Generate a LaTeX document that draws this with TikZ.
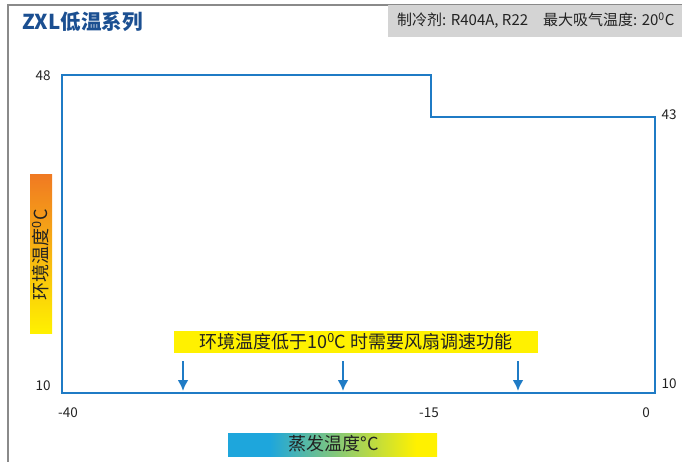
\documentclass[tikz,border=0pt]{standalone}
\usepackage{fontspec}
\setmainfont{Noto Sans CJK SC}
\usetikzlibrary{arrows.meta}

\definecolor{curveblue}{HTML}{1F7BC5}
\definecolor{titleblue}{HTML}{1B4F91}
\definecolor{framegray}{HTML}{8A8A8A}
\definecolor{hdrgray}{HTML}{D4D4D4}
\definecolor{notetext}{HTML}{222222}
\definecolor{evblue}{HTML}{1EA6DC}
\definecolor{evyellow}{HTML}{FFF100}
\definecolor{ambor}{HTML}{F07A22}

\pgfdeclarehorizontalshading{evapshade}{100bp}{color(0bp)=(evblue); color(35bp)=(evblue); color(70bp)=(evyellow); color(100bp)=(evyellow)}

\begin{document}
\begin{tikzpicture}[x=1pt, y=-1pt, every node/.style={inner sep=0pt, text=notetext}]
\useasboundingbox (0,0) rectangle (682,462);

% frame and header
\draw[framegray, line width=1.5pt] (8,462) -- (8,5) -- (682,5);
\fill[hdrgray] (388,5) rectangle (682,37);
\node[anchor=west, text=titleblue, font=\fontsize{20.5}{22}\selectfont\bfseries] (ttl) at (22,22) {ZXL低温系列};
\node[anchor=west, font=\fontsize{15}{17}\selectfont] (hdr) at (397,21) {制冷剂: R404A, R22\quad 最大吸气温度: 20\textsuperscript{0}C};

% operating envelope
\draw[curveblue, line width=2pt] (62,75) -- (431,75) -- (431,117) -- (655,117) -- (655,393) -- (62,393) -- cycle;

\node[font=\fontsize{13.5}{15}\selectfont] (t48) at (43,76) {48};
\node[font=\fontsize{13.5}{15}\selectfont] (t43) at (669,115) {43};
\node[font=\fontsize{13.5}{15}\selectfont] (t10l) at (43,386) {10};
\node[font=\fontsize{13.5}{15}\selectfont] (t10r) at (669,384) {10};
\node[font=\fontsize{13.5}{15}\selectfont] (tm40) at (68,413) {-40};
\node[font=\fontsize{13.5}{15}\selectfont] (tm15) at (429,413) {-15};
\node[font=\fontsize{13.5}{15}\selectfont] (t0) at (646,413) {0};

% fan speed note
\node[fill=evyellow, minimum width=364pt, minimum height=22pt, font=\fontsize{18}{20}\selectfont] (note) at (356,342) {环境温度低于10\textsuperscript{0}C 时需要风扇调速功能};

\coordinate (a1) at (183,361);
\coordinate (b1) at (183,391);
\coordinate (a2) at (343,361);
\coordinate (b2) at (343,391);
\coordinate (a3) at (518,361);
\coordinate (b3) at (518,391);
\draw[curveblue, line width=2.2pt, -{Latex[length=11pt,width=11pt]}] (a1) -- (b1);
\draw[curveblue, line width=2.2pt, -{Latex[length=11pt,width=11pt]}] (a2) -- (b2);
\draw[curveblue, line width=2.2pt, -{Latex[length=11pt,width=11pt]}] (a3) -- (b3);

% axis titles
\shade[top color=ambor, bottom color=evyellow] (30,175) rectangle (52,333);
\node[rotate=90, font=\fontsize{18}{20}\selectfont] (ylab) at (41,255) {环境温度\textsuperscript{0}C};
\shade[shading=evapshade] (228,433) rectangle (437,456);
\node[font=\fontsize{18}{20}\selectfont] (xlab) at (334,444) {蒸发温度°C};
\end{tikzpicture}
\end{document}
